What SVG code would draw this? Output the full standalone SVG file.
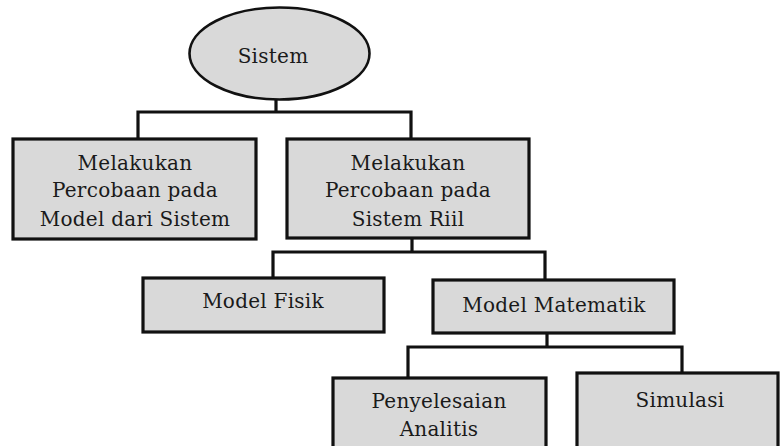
<svg xmlns="http://www.w3.org/2000/svg" width="780" height="446" viewBox="0 0 780 446">
  <style>
    .box { fill: #d9d9d9; stroke: #111; stroke-width: 3.2; }
    .oval { fill: #d9d9d9; stroke: #111; stroke-width: 2.6; }
    .lbl { font-family: "DejaVu Serif", "Liberation Serif", serif; font-size: 20px; letter-spacing: 0.25px; fill: #1a1a1a; text-anchor: middle; }
    .wire { fill: none; stroke: #111; stroke-width: 3.2; stroke-linecap: square; }
  </style>
  <rect width="780" height="446" fill="#ffffff"/>

  <!-- tree connectors -->
  <g id="connectors">
    <path class="wire" d="M276 100 V112 M138 112 H411 M138 112 V139 M411 112 V139"/>
    <path class="wire" d="M412 238 V252 M273 252 H545 M273 252 V278 M545 252 V280"/>
    <path class="wire" d="M547 333 V347 M408 347 H682 M408 347 V378 M682 347 V373"/>
  </g>

  <g id="sistem">
    <ellipse class="oval" cx="279.5" cy="53.5" rx="90" ry="46"/>
    <text class="lbl" x="273" y="63">Sistem</text>
  </g>

  <g id="percobaan-model">
    <rect class="box" x="13" y="139" width="243" height="100"/>
    <text class="lbl" x="135" y="170">Melakukan</text>
    <text class="lbl" x="135" y="197">Percobaan pada</text>
    <text class="lbl" x="135" y="226">Model dari Sistem</text>
  </g>

  <g id="percobaan-riil">
    <rect class="box" x="287" y="139" width="242" height="99"/>
    <text class="lbl" x="408" y="170">Melakukan</text>
    <text class="lbl" x="408" y="197">Percobaan pada</text>
    <text class="lbl" x="408" y="226">Sistem Riil</text>
  </g>

  <g id="model-fisik">
    <rect class="box" x="143" y="278" width="241" height="54"/>
    <text class="lbl" x="263" y="308">Model Fisik</text>
  </g>

  <g id="model-matematik">
    <rect class="box" x="433" y="280" width="241" height="53"/>
    <text class="lbl" x="554" y="312">Model Matematik</text>
  </g>

  <g id="penyelesaian-analitis">
    <rect class="box" x="333" y="378" width="213" height="90"/>
    <text class="lbl" x="439" y="408">Penyelesaian</text>
    <text class="lbl" x="439" y="436">Analitis</text>
  </g>

  <g id="simulasi">
    <rect class="box" x="577" y="373" width="201" height="95"/>
    <text class="lbl" x="680" y="407">Simulasi</text>
  </g>
</svg>
